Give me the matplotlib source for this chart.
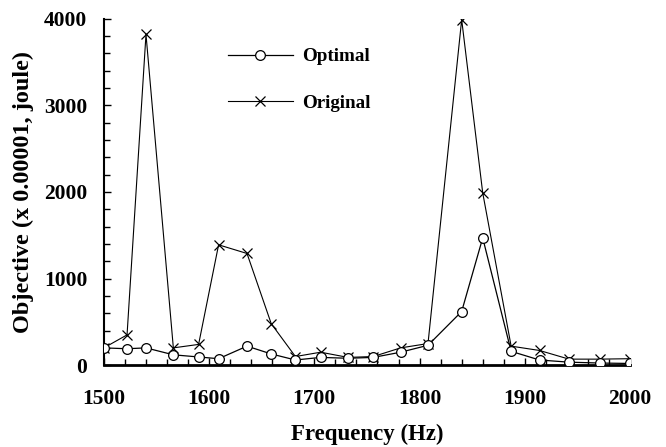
import matplotlib
matplotlib.use("Agg")
import matplotlib.pyplot as plt
from matplotlib.ticker import MultipleLocator

freq = [1500, 1522, 1540, 1566, 1590, 1609, 1636, 1659, 1682, 1706, 1732,
        1756, 1782, 1808, 1840, 1860, 1887, 1914, 1942, 1971, 2000]
optimal = [200, 190, 200, 120, 95, 75, 220, 130, 60, 90, 80,
           90, 150, 230, 620, 1470, 160, 60, 35, 25, 20]
original = [200, 350, 3820, 200, 240, 1390, 1290, 480, 100, 150, 90,
            100, 200, 250, 3990, 1990, 220, 170, 70, 70, 75]

plt.rcParams['font.family'] = ['Liberation Serif', 'DejaVu Serif']
plt.rcParams['font.weight'] = 'bold'

fig = plt.figure(figsize=(6.66, 4.47), dpi=100)
ax = fig.add_axes([0.156, 0.183, 0.79, 0.775])

ax.plot(freq, optimal, color='black', lw=0.9, marker='o', ms=7,
        mfc='white', mec='black', mew=0.9, label='Optimal', zorder=3)
ax.plot(freq, original, color='black', lw=0.8, marker='x', ms=7,
        mec='black', mew=0.9, label='Original', zorder=2)

ax.set_xlim(1500, 2000)
ax.set_ylim(0, 4000)
ax.xaxis.set_major_locator(MultipleLocator(100))
ax.xaxis.set_minor_locator(MultipleLocator(20))
ax.yaxis.set_major_locator(MultipleLocator(1000))
ax.yaxis.set_minor_locator(MultipleLocator(200))

for s in ['top', 'right']:
    ax.spines[s].set_visible(False)
ax.spines['left'].set_linewidth(1.5)
ax.spines['bottom'].set_linewidth(2)

ax.tick_params(axis='both', which='both', direction='in', width=1)
ax.tick_params(axis='both', which='major', length=5, labelsize=15.5)
ax.tick_params(axis='both', which='minor', length=4)
ax.tick_params(axis='x', which='major', pad=17)
ax.tick_params(axis='y', which='major', pad=12)

for lbl in ax.get_xticklabels() + ax.get_yticklabels():
    lbl.set_fontweight('bold')

ax.set_xlabel('Frequency (Hz)', fontsize=16.5, fontweight='bold', labelpad=11)
ax.set_ylabel('Objective (x 0.00001, joule)', fontsize=17.5, fontweight='bold', labelpad=7)

leg = ax.legend(loc='upper left', bbox_to_anchor=(0.203, 0.965), frameon=False,
                handlelength=3.4, handletextpad=0.5, labelspacing=1.55,
                prop={'family': 'Liberation Serif', 'weight': 'bold', 'size': 13.7})

fig.savefig('out.png', dpi=100)
